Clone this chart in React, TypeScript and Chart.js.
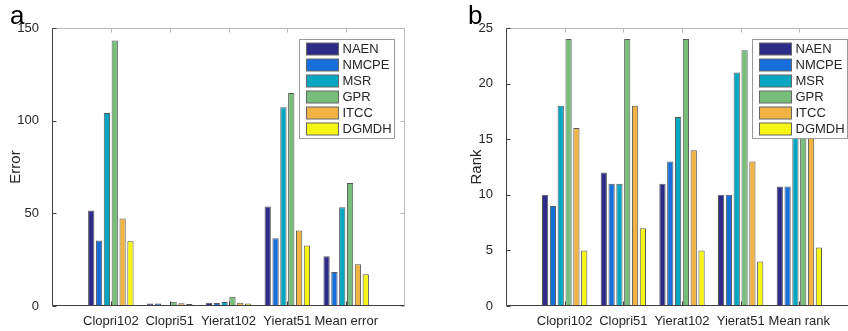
import React, { useEffect, useRef } from "react";
import { Chart, registerables } from "chart.js";
Chart.register(...registerables);

const seriesNames = ["NAEN", "NMCPE", "MSR", "GPR", "ITCC", "DGMDH"];
const seriesColors = ["#2e2a87", "#176fdc", "#07a6c1", "#76be79", "#f1b343", "#f6f614"];

const errorCategories = ["Clopri102", "Clopri51", "Yierat102", "Yierat51", "Mean error"];
const errorNAEN = [51.5, 1.3, 1.8, 53.7, 26.8];
const errorNMCPE = [35.3, 1.3, 1.6, 36.6, 18.4];
const errorMSR = [104.1, 0.2, 2.2, 107.2, 53.3];
const errorGPR = [143.3, 2.3, 5.0, 114.9, 66.3];
const errorITCC = [47.2, 1.5, 1.8, 40.7, 22.5];
const errorDGMDH = [34.9, 1.1, 1.3, 32.6, 17.1];
const errorTicks = [0, 50, 100, 150];

const rankCategories = ["Clopri102", "Clopri51", "Yierat102", "Yierat51", "Mean rank"];
const rankNAEN = [10, 12, 11, 10, 10.75];
const rankNMCPE = [9, 11, 13, 10, 10.75];
const rankMSR = [18, 11, 17, 21, 16.75];
const rankGPR = [24, 24, 24, 23, 23.75];
const rankITCC = [16, 18, 14, 13, 15.25];
const rankDGMDH = [5, 7, 5, 4, 5.25];
const rankTicks = [0, 5, 10, 15, 20, 25];

const FONT = "'Liberation Sans', Arial, Helvetica, sans-serif";
const TEXT = "#262626";

const framePlugin = {
  id: "frame",
  afterDraw(chart: any, _args: any, opts: any) {
    const ctx = chart.ctx;
    const { left, right, top, bottom } = chart.chartArea;
    const xs = chart.scales.x;
    const ys = chart.scales.y;
    const L = Math.round(left) + 0.5;
    const R = Math.round(right) - 0.5;
    const T = Math.round(top) + 0.5;
    const B = Math.round(bottom) - 0.5;
    const tl = 4;
    ctx.save();
    ctx.lineWidth = 1;
    // light top/right
    ctx.strokeStyle = "#b8b8b8";
    ctx.beginPath();
    ctx.moveTo(L, T); ctx.lineTo(R, T); ctx.lineTo(R, B);
    xs.ticks.forEach((t: any, i: number) => {
      if (!t.label) return;
      const px = Math.round(xs.getPixelForTick(i)) + 0.5;
      ctx.moveTo(px, T); ctx.lineTo(px, T + tl);
    });
    ys.ticks.forEach((t: any) => {
      const py = Math.round(ys.getPixelForValue(t.value)) + 0.5;
      ctx.moveTo(R, py); ctx.lineTo(R - tl, py);
    });
    ctx.stroke();
    // dark left/bottom
    ctx.strokeStyle = "#404040";
    ctx.beginPath();
    ctx.moveTo(L, T); ctx.lineTo(L, B); ctx.lineTo(R, B);
    xs.ticks.forEach((t: any, i: number) => {
      if (!t.label) return;
      const px = Math.round(xs.getPixelForTick(i)) + 0.5;
      ctx.moveTo(px, B); ctx.lineTo(px, B - tl);
    });
    ys.ticks.forEach((t: any) => {
      const py = Math.round(ys.getPixelForValue(t.value)) + 0.5;
      ctx.moveTo(L, py); ctx.lineTo(L + tl, py);
    });
    ctx.stroke();

    // legend box
    const boxW = 95, rowH = 16, boxH = 99;
    const bx = Math.round(right - 11 - boxW) + 0.5;
    const by = Math.round(top + 11) + 0.5;
    ctx.fillStyle = "#ffffff";
    ctx.fillRect(bx, by, boxW, boxH);
    ctx.strokeStyle = "#9a9a9a";
    ctx.strokeRect(bx, by, boxW, boxH);
    ctx.font = `13px ${FONT}`;
    ctx.textBaseline = "middle";
    ctx.textAlign = "left";
    chart.data.datasets.forEach((ds: any, i: number) => {
      const cy = by + 9.5 + i * rowH;
      ctx.fillStyle = ds.backgroundColor;
      ctx.fillRect(bx + 7, cy - 6, 32, 12);
      ctx.strokeStyle = "#666666";
      ctx.strokeRect(bx + 7, cy - 6, 32, 12);
      ctx.fillStyle = TEXT;
      ctx.fillText(ds.label, bx + 43, cy + 0.5);
    });

    // panel letter
    ctx.fillStyle = "#000000";
    ctx.font = `26px ${FONT}`;
    ctx.textBaseline = "alphabetic";
    ctx.fillText(opts.letter, opts.letterX, 24);
    ctx.restore();
  },
};

function makeConfig(
  categories: string[],
  series: number[][],
  ticks: number[],
  title: string,
  yWidth: number,
  titlePad: number,
  rightPad: number,
  letter: string,
  letterX: number
): any {
  const labels = ["", ...categories, ""];
  return {
    type: "bar",
    data: {
      labels,
      datasets: series.map((vals, i) => ({
        label: seriesNames[i],
        data: [null, ...vals, null],
        backgroundColor: seriesColors[i],
        borderColor: "#5a5a5a",
        borderWidth: 1,
        categoryPercentage: 0.8,
        barPercentage: 0.8,
      })),
    },
    options: {
      animation: false,
      responsive: true,
      maintainAspectRatio: false,
      devicePixelRatio: 1,
      layout: { padding: { top: 28, right: rightPad, left: 0, bottom: 0 } },
      plugins: {
        legend: { display: false },
        tooltip: { enabled: false },
        frame: { letter, letterX },
      },
      scales: {
        x: {
          type: "category",
          offset: false,
          grid: { display: false },
          border: { display: false },
          ticks: {
            autoSkip: false,
            maxRotation: 0,
            minRotation: 0,
            padding: 0,
            color: TEXT,
            font: { family: FONT, size: 13 },
          },
          afterFit: (s: any) => { s.height = 25; },
        },
        y: {
          min: ticks[0],
          max: ticks[ticks.length - 1],
          grid: { display: false },
          border: { display: false },
          afterBuildTicks: (s: any) => { s.ticks = ticks.map((v) => ({ value: v })); },
          ticks: {
            padding: 5,
            color: TEXT,
            font: { family: FONT, size: 13 },
          },
          title: {
            display: true,
            text: title,
            color: TEXT,
            font: { family: FONT, size: 15 },
            padding: { top: titlePad, bottom: 0 },
          },
          afterFit: (s: any) => { s.width = yWidth; },
        },
      },
    },
    plugins: [framePlugin],
  };
}

function Panel(props: { config: any; left: number; width: number }) {
  const ref = useRef<HTMLCanvasElement | null>(null);
  useEffect(() => {
    if (!ref.current) return;
    const chart = new Chart(ref.current, props.config);
    return () => chart.destroy();
  }, []);
  return (
    <div style={{ position: "absolute", left: props.left, top: 0, width: props.width, height: 331 }}>
      <canvas ref={ref} />
    </div>
  );
}

export default function App() {
  const cfgA = makeConfig(
    errorCategories,
    [errorNAEN, errorNMCPE, errorMSR, errorGPR, errorITCC, errorDGMDH],
    errorTicks,
    "Error",
    52,
    7,
    19,
    "a",
    10
  );
  const cfgB = makeConfig(
    rankCategories,
    [rankNAEN, rankNMCPE, rankMSR, rankGPR, rankITCC, rankDGMDH],
    rankTicks,
    "Rank",
    82,
    44,
    6,
    "b",
    44
  );
  return (
    <div style={{ position: "fixed", left: 0, top: 0, width: 848, height: 331, overflow: "hidden", background: "#ffffff" }}>
      <Panel config={cfgA} left={0} width={424} />
      <Panel config={cfgB} left={424} width={440} />
    </div>
  );
}
